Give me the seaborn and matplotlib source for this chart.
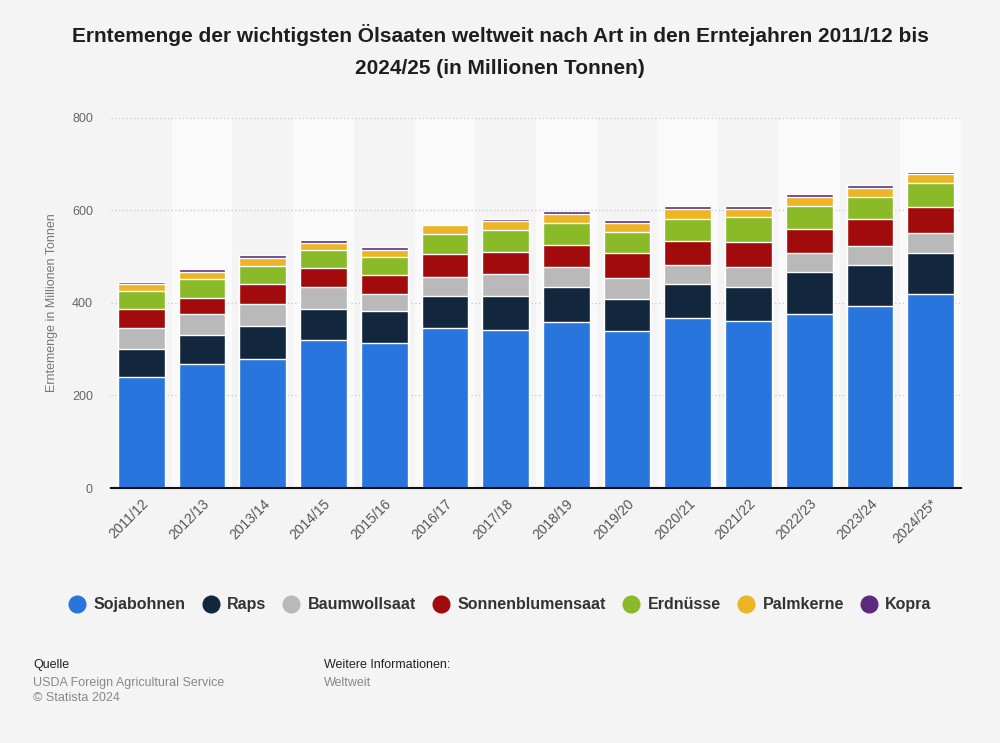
import pandas as pd
import seaborn as sns
import matplotlib.pyplot as plt
from matplotlib.lines import Line2D

jahre = ['2011/12', '2012/13', '2013/14', '2014/15', '2015/16', '2016/17', '2017/18',
         '2018/19', '2019/20', '2020/21', '2021/22', '2022/23', '2023/24', '2024/25*']

sojabohnen = [239, 268, 279, 320, 313, 347, 342, 359, 339, 368, 360, 377, 394, 420]
raps = [61, 63, 72, 68, 70, 69, 74, 75, 69, 74, 74, 89, 89, 88]
baumwollsaat = [47, 46, 47, 47, 37, 41, 46, 43, 45, 40, 44, 43, 41, 44]
sonnenblumensaat = [41, 34, 42, 40, 40, 48, 49, 48, 55, 52, 54, 52, 57, 56]
erdnuesse = [38, 40, 40, 40, 40, 44, 46, 49, 46, 48, 54, 49, 49, 51]
palmkerne = [14, 17, 17, 15, 15, 20, 20, 19, 20, 21, 18, 20, 19, 20]
kopra = [6, 6, 6, 6, 6, 0, 5, 6, 5, 6, 5, 5, 6, 5]

arten = ['Sojabohnen', 'Raps', 'Baumwollsaat', 'Sonnenblumensaat', 'Erdnüsse', 'Palmkerne', 'Kopra']
farben = ['#2876dd', '#12263d', '#b9b9b9', '#a20b0b', '#8aba27', '#edb425', '#5e2a7e']

df = pd.DataFrame({'Jahr': jahre, 'Sojabohnen': sojabohnen, 'Raps': raps,
                   'Baumwollsaat': baumwollsaat, 'Sonnenblumensaat': sonnenblumensaat,
                   'Erdnüsse': erdnuesse, 'Palmkerne': palmkerne, 'Kopra': kopra})
kum = df[arten].cumsum(axis=1)
kum['Jahr'] = df['Jahr']

sns.set_style('white')
plt.rcParams['font.family'] = ['Liberation Sans', 'DejaVu Sans']

fig = plt.figure(figsize=(10, 7.43), dpi=100, facecolor='#f4f4f4')
ax = fig.add_axes([0.111, 0.3432, 0.85, 0.498])
ax.set_facecolor('#f4f4f4')

# helle Streifen hinter jeder zweiten Saeule
for i in range(1, len(jahre), 2):
    ax.axvspan(i - 0.5, i + 0.5, color='#fafafa', zorder=0, lw=0)

# gestapelt: oberste Summe zuerst, dann darueber die kleineren
for art, farbe in reversed(list(zip(arten, farben))):
    sns.barplot(data=kum, x='Jahr', y=art, color=farbe, width=0.77,
                edgecolor='white', linewidth=1, saturation=1, ax=ax, zorder=3)

ax.set_xlim(-0.5, len(jahre) - 0.5)
ax.set_ylim(0, 800)
ax.set_yticks([0, 200, 400, 600, 800])
ax.yaxis.grid(True, ls=(0, (1, 2)), color='#c8c8c8', lw=0.9, zorder=1)
ax.set_axisbelow(True)
for s in ['top', 'right', 'left']:
    ax.spines[s].set_visible(False)
ax.spines['bottom'].set_color('#111111')
ax.spines['bottom'].set_linewidth(1.5)
ax.spines['bottom'].set_zorder(5)

ax.tick_params(axis='y', length=0, pad=13, labelsize=9, labelcolor='#666666')
ax.tick_params(axis='x', length=0, pad=6, labelsize=10, labelcolor='#555555')
plt.setp(ax.get_xticklabels(), rotation=45, ha='right', rotation_mode='anchor')
ax.set_xlabel('')
ax.set_ylabel('Erntemenge in Millionen Tonnen', fontsize=9, color='#777777', labelpad=10)

fig.text(0.5, 0.953, 'Erntemenge der wichtigsten Ölsaaten weltweit nach Art in den Erntejahren 2011/12 bis',
         ha='center', va='center', fontsize=15, fontweight='bold', color='#1e1e1e')
fig.text(0.5, 0.908, '2024/25 (in Millionen Tonnen)',
         ha='center', va='center', fontsize=15, fontweight='bold', color='#1e1e1e')

handles = [Line2D([0], [0], marker='o', ls='', markersize=12, markerfacecolor=f,
                  markeredgecolor=f) for f in farben]
leg = fig.legend(handles, arten, loc='center', bbox_to_anchor=(0.5, 0.186), ncol=7,
                 frameon=False, handlelength=1.1, handletextpad=0.5, columnspacing=1.0,
                 prop={'size': 11.5, 'weight': 'bold'})
for t in leg.get_texts():
    t.set_color('#333333')

fig.text(0.033, 0.105, 'Quelle', fontsize=9, color='#222222', va='center')
fig.text(0.033, 0.081, 'USDA Foreign Agricultural Service', fontsize=9, color='#888888', va='center')
fig.text(0.033, 0.061, '© Statista 2024', fontsize=9, color='#888888', va='center')
fig.text(0.324, 0.105, 'Weitere Informationen:', fontsize=9, color='#222222', va='center')
fig.text(0.324, 0.081, 'Weltweit', fontsize=9, color='#888888', va='center')

plt.savefig('out.png', dpi=100, facecolor=fig.get_facecolor())
